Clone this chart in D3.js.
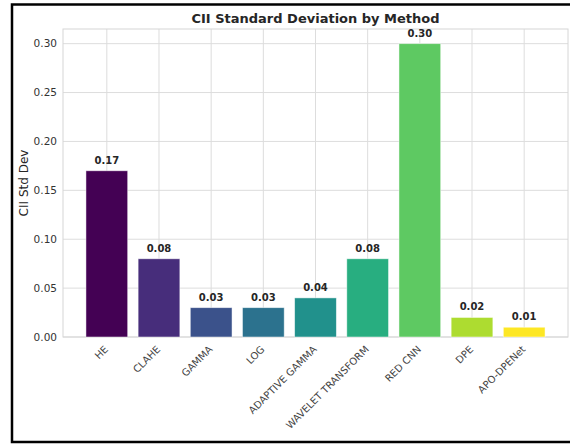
<!DOCTYPE html>
<html>
<head>
<meta charset="utf-8">
<script src="https://cdn.jsdelivr.net/npm/d3@7"></script>
<style>
  body { margin: 0; background: #fff; }
  svg { display: block; font-family: "DejaVu Sans", sans-serif; }
</style>
</head>
<body>
<div id="chart"></div>
<script>
// CII std dev per method
let methods = ["HE", "CLAHE", "GAMMA", "LOG", "ADAPTIVE GAMMA", "WAVELET TRANSFORM", "RED CNN", "DPE", "APO-DPENet"]
let stdDevs = [0.17, 0.08, 0.03, 0.03, 0.04, 0.08, 0.30, 0.02, 0.01]
let yTicks = [0.00, 0.05, 0.10, 0.15, 0.20, 0.25, 0.30]

var W = 570, H = 445
var margin = {top: 29, left: 63, right: 2, bottom: 108}
var width = W - margin.left - margin.right,
    height = H - margin.top - margin.bottom

var svg = d3.select("#chart").append("svg")
    .attr("width", W)
    .attr("height", H)

// outer frame
svg.append("path")
    .attr("d", "M570,4.5 H12 V442 H570")
    .attr("fill", "none")
    .attr("stroke", "#000")
    .attr("stroke-width", 2.5)

var g = svg.append("g")
    .attr("transform", "translate(" + margin.left + "," + margin.top + ")")

// matplotlib-like x limits: -0.84 .. 8.84
var x = d3.scaleLinear()
    .domain([-0.84, methods.length - 1 + 0.84])
    .range([0, width])
var y = d3.scaleLinear()
    .domain([0, 0.315])
    .range([height, 0])

var color = function(i) { return d3.interpolateViridis(i / (methods.length - 1)) }

// grid
g.selectAll(".hgrid").data(yTicks).enter().append("line")
    .attr("x1", 0).attr("x2", width)
    .attr("y1", d => y(d)).attr("y2", d => y(d))
    .attr("stroke", "#dddddd").attr("stroke-width", 1)
g.selectAll(".vgrid").data(methods).enter().append("line")
    .attr("x1", (d, i) => x(i)).attr("x2", (d, i) => x(i))
    .attr("y1", 0).attr("y2", height)
    .attr("stroke", "#dddddd").attr("stroke-width", 1)

// spines
g.append("rect")
    .attr("width", width).attr("height", height)
    .attr("fill", "none").attr("stroke", "#d6d6d6").attr("stroke-width", 1)

// bars
var bw = x(0.4) - x(-0.4)
g.selectAll(".bar").data(stdDevs).enter().append("rect")
    .attr("x", (d, i) => x(i) - bw / 2)
    .attr("y", d => y(d))
    .attr("width", bw)
    .attr("height", d => height - y(d))
    .attr("fill", (d, i) => color(i))
    .attr("stroke", "#ffffff").attr("stroke-opacity", 0.6).attr("stroke-width", 0.8)

// value labels
g.selectAll(".val").data(stdDevs).enter().append("text")
    .attr("x", (d, i) => x(i))
    .attr("y", d => y(d) - 7)
    .attr("text-anchor", "middle")
    .style("font-size", "10px")
    .style("font-weight", "bold")
    .attr("fill", "#262626")
    .text(d => d.toFixed(2))

// y axis labels
g.selectAll(".ytick").data(yTicks).enter().append("text")
    .attr("x", -6)
    .attr("y", d => y(d))
    .attr("dy", "0.35em")
    .attr("text-anchor", "end")
    .style("font-size", "10.5px")
    .attr("fill", "#333")
    .text(d => d.toFixed(2))

// x labels rotated
g.selectAll(".xtick").data(methods).enter().append("text")
    .attr("transform", (d, i) => "translate(" + (x(i) - 3) + "," + (height + 8) + ") rotate(-45)")
    .attr("text-anchor", "end")
    .attr("dy", "0.7em")
    .style("font-size", "10px")
    .attr("fill", "#444")
    .text(d => d)

// title
svg.append("text")
    .attr("x", margin.left + width / 2)
    .attr("y", 23)
    .attr("text-anchor", "middle")
    .style("font-size", "13px")
    .style("font-weight", "bold")
    .attr("fill", "#262626")
    .text("CII Standard Deviation by Method")

// y axis title
svg.append("text")
    .attr("transform", "translate(28," + (margin.top + height / 2) + ") rotate(-90)")
    .attr("text-anchor", "middle")
    .style("font-size", "12px")
    .attr("fill", "#262626")
    .text("CII Std Dev")
</script>
</body>
</html>
